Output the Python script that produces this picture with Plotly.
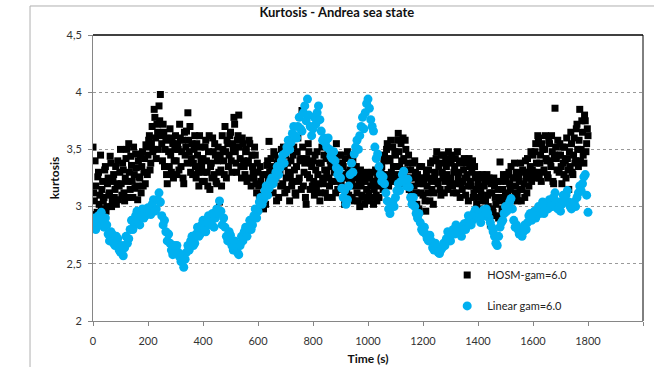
import plotly.graph_objects as go

# ---------------- data ----------------
# HOSM-gam=6.0 : samples on a 5 s grid (set A) and on the 5 s grid shifted by 2.5 s (set B)
hosm_kurtosis_a = [
    3.52, 3.05, 3.18, 2.95, 3.30, 3.10, 2.98, 3.22, 3.08, 3.35, 3.00, 3.25, 3.12, 3.38, 3.05, 3.28, 3.15, 3.02, 3.40, 3.18,
    3.50, 3.10, 3.32, 3.05, 3.42, 3.22, 3.55, 3.15, 3.36, 3.08, 3.28, 3.46, 3.18, 3.40, 3.25, 3.12, 3.48, 3.30, 3.20, 3.52,
    3.45, 3.62, 3.38, 3.70, 3.50, 3.78, 3.42, 3.65, 3.88, 3.98, 3.55, 3.72, 3.35, 3.60, 3.20, 3.48, 3.68, 3.30, 3.55, 3.40,
    3.62, 3.28, 3.50, 3.72, 3.35, 3.58, 3.20, 3.45, 3.66, 3.82, 3.48, 3.30, 3.55, 3.38, 3.62, 3.25, 3.45, 3.18, 3.52, 3.35,
    3.42, 3.22, 3.58, 3.30, 3.48, 3.15, 3.38, 3.60, 3.28, 3.45, 3.20, 3.52, 3.04, 3.32, 3.62, 3.40, 3.70, 3.25, 3.55, 3.45,
    3.65, 3.30, 3.50, 3.72, 3.38, 3.58, 3.80, 3.42, 3.25, 3.55, 3.35, 3.48, 3.22, 3.40, 3.55, 3.18, 3.35, 3.25, 3.45, 3.12,
    3.30, 3.10, 3.22, 3.05, 2.98, 3.15, 3.28, 3.40, 3.57, 3.20, 3.35, 3.12, 3.45, 3.25, 3.38, 3.08, 3.30, 3.50, 3.20, 3.35,
    3.45, 3.15, 3.30, 3.05, 3.40, 3.22, 3.52, 3.12, 3.35, 3.60, 3.25, 3.42, 3.84, 3.18, 3.38, 3.02, 3.28, 3.48, 3.15, 3.35,
    3.40, 3.10, 3.32, 3.48, 3.20, 3.05, 3.38, 3.25, 3.45, 3.12, 3.30, 3.50, 3.18, 3.35, 3.08, 3.42, 3.22, 3.55, 3.15, 3.30,
    3.45, 3.15, 3.35, 3.02, 3.28, 3.48, 3.10, 3.32, 3.20, 3.40, 3.05, 3.25, 3.12, 3.30, 3.00, 3.18, 3.28, 3.08, 3.22, 3.15,
    3.25, 3.05, 3.18, 3.30, 3.02, 3.20, 3.10, 3.28, 3.08, 3.22, 3.35, 3.15, 3.45, 3.25, 3.55, 3.18, 3.40, 3.30, 3.52, 3.22,
    3.45, 3.28, 3.64, 3.35, 3.55, 3.20, 3.42, 3.58, 3.25, 3.38, 3.15, 3.32, 3.05, 3.25, 3.40, 3.12, 3.28, 2.98, 3.20, 3.35,
    3.10, 3.25, 2.96, 3.18, 3.32, 3.05, 3.22, 3.40, 3.12, 3.30, 3.48, 3.20, 3.38, 3.10, 3.30, 3.45, 3.22, 3.35, 3.15, 3.42,
    3.25, 3.45, 3.12, 3.35, 3.20, 3.48, 3.30, 3.08, 3.38, 3.22, 3.42, 3.10, 3.28, 3.05, 3.35, 3.18, 3.40, 3.12, 3.25, 3.02,
    3.20, 2.98, 3.15, 3.28, 3.05, 3.22, 2.92, 3.10, 3.25, 2.84, 3.12, 2.95, 3.18, 3.02, 3.22, 2.90, 3.39, 3.08, 3.15, 2.95,
    3.10, 3.28, 3.02, 3.20, 3.35, 3.08, 3.25, 3.12, 3.30, 3.05, 3.22, 3.38, 3.15, 3.30, 3.08, 3.25, 3.42, 3.18, 3.35, 3.22,
    3.45, 3.25, 3.55, 3.30, 3.60, 3.38, 3.22, 3.50, 3.32, 3.62, 3.40, 3.25, 3.55, 3.35, 3.48, 3.20, 3.86, 3.42, 3.58, 3.30,
    3.45, 3.20, 3.38, 3.52, 3.25, 3.42, 3.15, 3.35, 3.55, 3.28, 3.60, 3.40, 3.72, 3.35, 3.85, 3.50, 3.65, 3.38, 3.75, 3.55,
    3.62,
]
hosm_kurtosis_b = [
    3.12, 3.40, 2.93, 3.26, 3.02, 3.45, 3.15, 3.05, 3.32, 2.96, 3.20, 3.10, 3.44, 3.00, 3.22, 3.08, 3.35, 3.20, 3.06, 3.30,
    3.20, 3.38, 3.12, 3.25, 3.50, 3.08, 3.30, 3.44, 3.22, 3.52, 3.16, 3.34, 3.06, 3.26, 3.45, 3.35, 3.18, 3.42, 3.54, 3.28,
    3.58, 3.32, 3.55, 3.48, 3.85, 3.60, 3.72, 3.50, 3.75, 3.62, 3.40, 3.65, 3.50, 3.28, 3.58, 3.35, 3.45, 3.60, 3.25, 3.50,
    3.40, 3.55, 3.32, 3.60, 3.48, 3.25, 3.65, 3.52, 3.38, 3.58, 3.70, 3.42, 3.28, 3.50, 3.35, 3.55, 3.30, 3.62, 3.40, 3.22,
    3.30, 3.52, 3.40, 3.18, 3.62, 3.35, 3.25, 3.48, 3.55, 3.22, 3.40, 3.30, 3.45, 3.18, 3.50, 3.28, 3.48, 3.58, 3.35, 3.62,
    3.40, 3.55, 3.78, 3.48, 3.30, 3.62, 3.52, 3.35, 3.60, 3.40, 3.28, 3.50, 3.38, 3.58, 3.25, 3.45, 3.30, 3.52, 3.20, 3.38,
    3.18, 3.35, 3.05, 3.28, 3.12, 3.02, 3.36, 3.22, 3.30, 3.42, 3.22, 3.48, 3.28, 3.05, 3.42, 3.30, 3.18, 3.40, 3.52, 3.12,
    3.25, 3.38, 3.55, 3.28, 3.18, 3.45, 3.32, 3.10, 3.48, 3.22, 3.40, 3.15, 3.52, 3.30, 3.08, 3.42, 3.55, 3.25, 3.38, 3.18,
    3.22, 3.45, 3.15, 3.28, 3.38, 3.12, 3.52, 3.20, 3.32, 3.42, 3.08, 3.25, 3.40, 3.22, 3.48, 3.30, 3.12, 3.38, 3.25, 3.45,
    3.20, 3.38, 3.25, 3.42, 3.12, 3.30, 3.22, 3.45, 3.08, 3.28, 3.18, 3.35, 3.05, 3.22, 3.32, 3.10, 3.25, 3.02, 3.30, 3.08,
    3.12, 3.28, 3.08, 3.22, 3.15, 3.32, 3.05, 3.25, 3.18, 3.30, 3.22, 3.40, 3.28, 3.50, 3.20, 3.42, 3.58, 3.25, 3.35, 3.48,
    3.35, 3.58, 3.48, 3.25, 3.40, 3.60, 3.32, 3.50, 3.20, 3.45, 3.25, 3.10, 3.38, 3.18, 3.30, 3.02, 3.22, 3.35, 3.12, 3.25,
    3.20, 3.05, 3.30, 3.12, 3.25, 3.38, 3.15, 3.02, 3.28, 3.42, 3.22, 3.35, 3.15, 3.45, 3.25, 3.12, 3.40, 3.28, 3.48, 3.20,
    3.38, 3.18, 3.30, 3.42, 3.12, 3.25, 3.40, 3.20, 3.15, 3.32, 3.25, 3.38, 3.18, 3.42, 3.22, 3.30, 3.08, 3.35, 3.15, 3.28,
    3.08, 3.25, 3.10, 2.95, 3.18, 3.05, 3.28, 3.00, 3.12, 3.20, 2.98, 3.25, 3.08, 2.92, 3.15, 3.05, 3.22, 2.98, 3.28, 3.05,
    3.22, 3.12, 3.30, 3.15, 3.05, 3.25, 3.38, 3.18, 3.10, 3.28, 3.15, 3.05, 3.32, 3.20, 3.40, 3.12, 3.30, 3.25, 3.48, 3.32,
    3.30, 3.48, 3.38, 3.62, 3.25, 3.45, 3.55, 3.30, 3.50, 3.42, 3.28, 3.58, 3.40, 3.62, 3.22, 3.45, 3.52, 3.32, 3.45, 3.55,
    3.35, 3.52, 3.28, 3.40, 3.60, 3.32, 3.48, 3.65, 3.30, 3.45, 3.38, 3.68, 3.50, 3.58, 3.40, 3.75, 3.45, 3.80, 3.48, 3.68,
]
hosm_time_a = [5.0 * i for i in range(len(hosm_kurtosis_a))]
hosm_time_b = [5.0 * i + 2.5 for i in range(len(hosm_kurtosis_b))]

# Linear gam=6.0 : samples on a 10 s grid (set A) and the same grid shifted by 5 s (set B)
linear_kurtosis_a = [
    2.85, 2.80, 2.92, 2.95, 2.82, 2.84, 2.70, 2.76, 2.66, 2.72,
    2.60, 2.57, 2.74, 2.72, 2.88, 2.84, 2.96, 2.84, 2.98, 2.92,
    2.99, 2.93, 3.06, 2.98, 3.12, 2.92, 2.88, 2.70, 2.68, 2.58,
    2.62, 2.60, 2.52, 2.47, 2.60, 2.62, 2.74, 2.68, 2.82, 2.76,
    2.88, 2.78, 2.92, 2.86, 2.82, 2.98, 3.05, 2.84, 2.82, 2.70,
    2.75, 2.62, 2.64, 2.58, 2.74, 2.78, 2.74, 2.88, 2.84, 2.98,
    2.96, 3.08, 3.06, 3.18, 3.16, 3.25, 3.24, 3.35, 3.34, 3.45,
    3.47, 3.58, 3.56, 3.70, 3.60, 3.78, 3.66, 3.88, 3.94, 3.70,
    3.68, 3.72, 3.88, 3.66, 3.60, 3.52, 3.50, 3.42, 3.40, 3.28,
    3.25, 3.08, 3.02, 3.18, 3.38, 3.46, 3.58, 3.62, 3.78, 3.82,
    3.94, 3.76, 3.66, 3.42, 3.35, 3.22, 3.20, 3.05, 2.94, 3.04,
    3.08, 3.20, 3.22, 3.31, 3.18, 3.17, 3.02, 3.00, 2.90, 2.86,
    2.78, 2.76, 2.70, 2.70, 2.62, 2.64, 2.59, 2.64, 2.66, 2.78,
    2.70, 2.80, 2.84, 2.78, 2.74, 2.85, 2.86, 2.88, 2.88, 2.97,
    2.90, 2.86, 2.97, 2.98, 2.90, 2.82, 2.74, 2.66, 2.82, 2.88,
    3.00, 2.98, 3.07, 2.88, 2.84, 2.76, 2.74, 2.84, 2.86, 2.94,
    2.93, 2.90, 3.00, 3.00, 2.94, 3.03, 3.06, 3.00, 3.12, 2.98,
    2.96, 3.10, 3.10, 3.04, 2.98, 3.04, 3.08, 3.18, 3.20, 3.28,
    2.95,
]
linear_kurtosis_b = [
    2.90, 2.86, 2.84, 2.88, 2.90, 2.76, 2.78, 2.68, 2.74, 2.62,
    2.66, 2.64, 2.68, 2.80, 2.80, 2.92, 2.88, 2.92, 2.90, 2.97,
    2.94, 3.02, 2.96, 3.06, 3.04, 2.84, 2.78, 2.76, 2.62, 2.66,
    2.66, 2.56, 2.58, 2.54, 2.66, 2.70, 2.66, 2.76, 2.74, 2.84,
    2.82, 2.86, 2.84, 2.94, 2.90, 2.94, 2.96, 2.90, 2.74, 2.78,
    2.66, 2.70, 2.60, 2.66, 2.70, 2.82, 2.82, 2.80, 2.92, 2.90,
    3.04, 3.02, 3.14, 3.10, 3.22, 3.20, 3.30, 3.28, 3.40, 3.38,
    3.52, 3.50, 3.64, 3.62, 3.70, 3.68, 3.82, 3.75, 3.80, 3.62,
    3.78, 3.82, 3.76, 3.58, 3.56, 3.60, 3.44, 3.48, 3.34, 3.32,
    3.16, 3.14, 3.06, 3.28, 3.30, 3.52, 3.50, 3.70, 3.68, 3.90,
    3.86, 3.70, 3.52, 3.46, 3.28, 3.26, 3.12, 2.98, 3.00, 3.00,
    3.14, 3.14, 3.28, 3.24, 3.24, 3.08, 3.08, 2.94, 2.94, 2.80,
    2.82, 2.72, 2.75, 2.64, 2.68, 2.60, 2.62, 2.68, 2.72, 2.72,
    2.76, 2.76, 2.78, 2.82, 2.80, 2.80, 2.92, 2.84, 2.94, 2.92,
    2.94, 2.92, 2.92, 2.94, 2.86, 2.78, 2.68, 2.74, 2.86, 2.94,
    2.96, 3.04, 2.98, 2.82, 2.80, 2.80, 2.78, 2.80, 2.92, 2.88,
    2.96, 2.96, 2.94, 3.04, 2.98, 2.98, 3.02, 3.08, 3.04, 3.04,
    3.02, 3.04, 3.14, 3.00, 3.02, 3.00, 3.12, 3.14, 3.26, 3.10,
]
linear_time_a = [10.0 * i for i in range(len(linear_kurtosis_a))]
linear_time_b = [10.0 * i + 5.0 for i in range(len(linear_kurtosis_b))]

x_ticks = [0, 200, 400, 600, 800, 1000, 1200, 1400, 1600, 1800, 2000]
y_ticks = [2.0, 2.5, 3.0, 3.5, 4.0, 4.5]
y_tick_labels = ["2", "2,5", "3", "3,5", "4", "4,5"]

# ---------------- figure ----------------
FONT = "Lato, 'Open Sans', sans-serif"

fig = go.Figure()
fig.add_trace(go.Scatter(
    x=hosm_time_a + hosm_time_b, y=hosm_kurtosis_a + hosm_kurtosis_b,
    mode="markers", name="HOSM-gam=6.0", legendgroup="a",
    marker=dict(symbol="square", size=7, color="#000000", line=dict(width=0)),
))
fig.add_trace(go.Scatter(
    x=linear_time_a + linear_time_b, y=linear_kurtosis_a + linear_kurtosis_b,
    mode="markers", name="Linear gam=6.0", legendgroup="b",
    marker=dict(symbol="circle", size=9, color="#00B0F0", line=dict(width=0)),
))

axis_gray = "#868686"

fig.update_layout(
    width=654, height=367,
    margin=dict(l=93, r=11, t=35, b=46, autoexpand=False),
    paper_bgcolor="white", plot_bgcolor="white",
    font=dict(family=FONT, size=11, color="#404040"),
    title=dict(text="<b>Kurtosis - Andrea sea state</b>", x=0.515, xanchor="center",
               y=0.965, yanchor="middle", font=dict(family=FONT, size=13, color="#111111")),
    showlegend=True,
    legend=dict(x=0.644, y=0.107, xanchor="left", yanchor="middle",
                bgcolor="rgba(0,0,0,0)", tracegroupgap=12, itemwidth=30,
                font=dict(family=FONT, size=11, color="#222222")),
    xaxis=dict(
        range=[0, 2000], tickvals=x_ticks, ticktext=[str(v) for v in x_ticks],
        showgrid=False, zeroline=False, automargin=False,
        showline=True, linecolor=axis_gray, linewidth=1,
        ticks="outside", ticklen=4, tickcolor=axis_gray, ticklabelstandoff=6,
        tickfont=dict(family=FONT, size=11, color="#333333"),
        title=dict(text="<b>Time (s)</b>", standoff=8,
                   font=dict(family=FONT, size=12, color="#111111")),
    ),
    yaxis=dict(
        range=[2, 4.5], tickvals=y_ticks, ticktext=y_tick_labels,
        showgrid=True, gridcolor="#9a9a9a", griddash="dot", gridwidth=1,
        zeroline=False, automargin=False,
        showline=True, linecolor=axis_gray, linewidth=1,
        ticks="outside", ticklen=4, tickcolor=axis_gray, ticklabelstandoff=4,
        tickfont=dict(family=FONT, size=11, color="#333333"),
        title=dict(text="<b>kurtosis</b>", standoff=4,
                   font=dict(family=FONT, size=12, color="#111111")),
    ),
)

# plot-area border (top and right, black) and outer chart frame (gray)
fig.add_shape(type="line", xref="paper", yref="paper", x0=0, x1=1, y0=1, y1=1,
              line=dict(color="#000000", width=1.5), layer="above")
fig.add_shape(type="line", xref="paper", yref="paper", x0=1, x1=1, y0=0, y1=1,
              line=dict(color="#000000", width=1), layer="above")
fig.add_shape(type="rect", xref="paper", yref="paper",
              x0=-0.1145, x1=1.2, y0=-0.4, y1=1.1014,
              line=dict(color="#b0b0b0", width=1), layer="below")

fig.write_html("out.html")
